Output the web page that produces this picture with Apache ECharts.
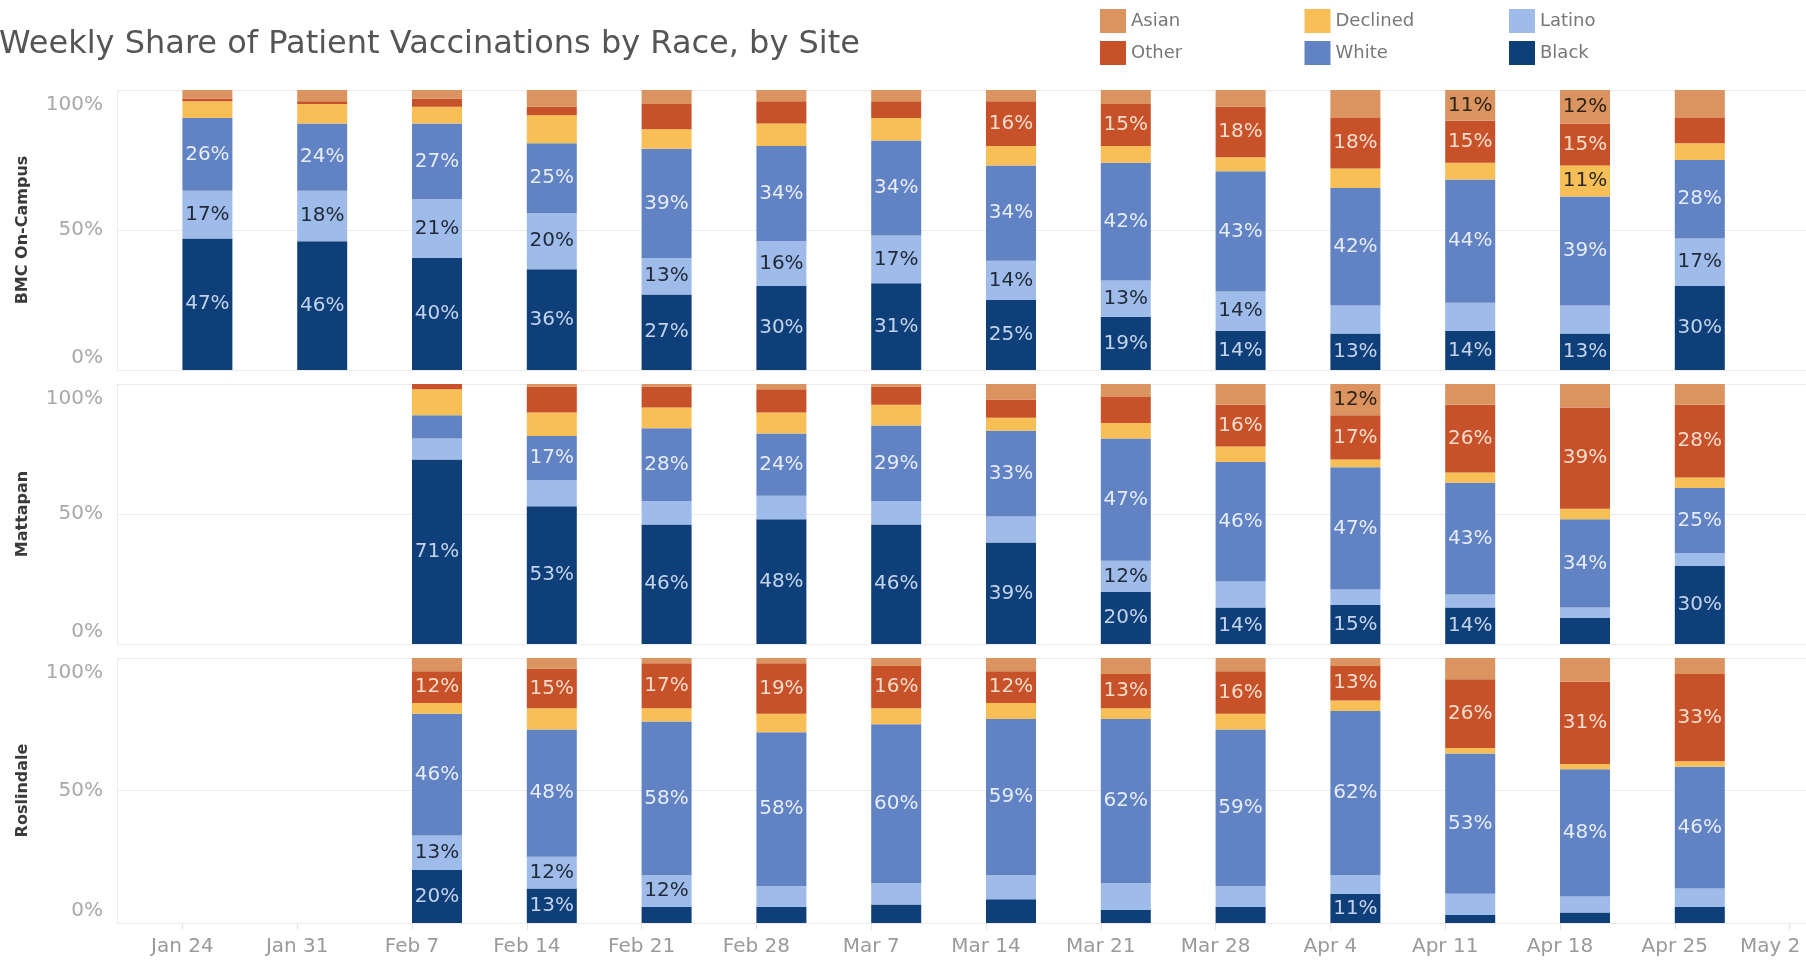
<!DOCTYPE html>
<html>
<head>
<meta charset="utf-8">
<title>Weekly Share of Patient Vaccinations by Race, by Site</title>
<script src="https://cdn.jsdelivr.net/npm/echarts@6/dist/echarts.min.js"></script>
<style>
    html, body { margin: 0; padding: 0; background: #fff; }
    #vaccine-chart { width: 1806px; height: 961px; }
</style>
</head>
<body>
<div id="vaccine-chart"></div>
<script>
    // week start dates (May 2 has no data yet)
    const weeks = ["Jan 24", "Jan 31", "Feb 7", "Feb 14", "Feb 21", "Feb 28", "Mar 7", "Mar 14", "Mar 21", "Mar 28", "Apr 4", "Apr 11", "Apr 18", "Apr 25", "May 2"];
    const races = ["Black", "Latino", "White", "Declined", "Other", "Asian"];
    const raceColors = ["#0f3f78", "#9ebbea", "#6182c3", "#f7bf55", "#c75129", "#db9460"];
    const labelColors = ["#c3d3ec", "#1f2937", "#e6ecf7", "#2a2a2a", "#f6dccb", "#2f2418"];

    // BMC On-Campus, share in %
    const bmcBlack    = [47, 46, 40, 36, 27, 30, 31, 25, 19, 14, 13, 14, 13, 30];
    const bmcLatino   = [17, 18, 21, 20, 13, 16, 17, 14, 13, 14, 10, 10, 10, 17];
    const bmcWhite    = [26, 24, 27, 25, 39, 34, 34, 34, 42, 43, 42, 44, 39, 28];
    const bmcDeclined = [6, 7, 6, 10, 7, 8, 8, 7, 6, 5, 7, 6, 11, 6];
    const bmcOther    = [1, 1, 3, 3, 9, 8, 6, 16, 15, 18, 18, 15, 15, 9];
    const bmcAsian    = [3, 4, 3, 6, 5, 4, 4, 4, 5, 6, 10, 11, 12, 10];

    // Mattapan
    const matBlack    = [null, null, 71, 53, 46, 48, 46, 39, 20, 14, 15, 14, 10, 30];
    const matLatino   = [null, null, 8, 10, 9, 9, 9, 10, 12, 10, 6, 5, 4, 5];
    const matWhite    = [null, null, 9, 17, 28, 24, 29, 33, 47, 46, 47, 43, 34, 25];
    const matDeclined = [null, null, 10, 9, 8, 8, 8, 5, 6, 6, 3, 4, 4, 4];
    const matOther    = [null, null, 2, 10, 8, 9, 7, 7, 10, 16, 17, 26, 39, 28];
    const matAsian    = [null, null, 0, 1, 1, 2, 1, 6, 5, 8, 12, 8, 9, 8];

    // Roslindale
    const rosBlack    = [null, null, 20, 13, 6, 6, 7, 9, 5, 6, 11, 3, 4, 6];
    const rosLatino   = [null, null, 13, 12, 12, 8, 8, 9, 10, 8, 7, 8, 6, 7];
    const rosWhite    = [null, null, 46, 48, 58, 58, 60, 59, 62, 59, 62, 53, 48, 46];
    const rosDeclined = [null, null, 4, 8, 5, 7, 6, 6, 4, 6, 4, 2, 2, 2];
    const rosOther    = [null, null, 12, 15, 17, 19, 16, 12, 13, 16, 13, 26, 31, 33];
    const rosAsian    = [null, null, 5, 4, 2, 2, 3, 5, 6, 5, 3, 8, 9, 6];

    const sites = [
        { name: "BMC On-Campus", values: [bmcBlack, bmcLatino, bmcWhite, bmcDeclined, bmcOther, bmcAsian] },
        { name: "Mattapan", values: [matBlack, matLatino, matWhite, matDeclined, matOther, matAsian] },
        { name: "Roslindale", values: [rosBlack, rosLatino, rosWhite, rosDeclined, rosOther, rosAsian] }
    ];

    // legend is laid out in three columns of two
    const legendColumns = [["Asian", "Other"], ["Declined", "White"], ["Latino", "Black"]];

    const font = "DejaVu Sans";
    const panelTops = [90, 384, 658];
    const panelHeights = [280, 260, 265];
    const band = 114.8;

    let grids = [];
    let xAxes = [];
    let yAxes = [];
    let series = [];

    sites.forEach((site, p) => {
        // grid a: y labels + gridlines, grid b: the bars
        grids.push({ left: 117, right: 0, top: panelTops[p], height: panelHeights[p], outerBoundsMode: "none", containLabel: false });
        grids.push({ left: 150, width: band * weeks.length, top: panelTops[p], height: panelHeights[p], outerBoundsMode: "none", containLabel: false });

        xAxes.push({ gridIndex: 2 * p, type: "category", data: weeks, show: false });
        xAxes.push({ gridIndex: 2 * p + 1, type: "category", data: weeks, show: false });

        yAxes.push({
            gridIndex: 2 * p,
            type: "value",
            min: 0,
            max: 100,
            interval: 50,
            name: site.name,
            nameLocation: "middle",
            nameGap: 86,
            nameRotate: 90,
            nameTextStyle: { color: "#3a3a3a", fontSize: 16, fontWeight: "bold", fontFamily: font },
            axisLine: { show: true, lineStyle: { color: "#ececec" } },
            axisTick: { show: false },
            splitLine: { lineStyle: { color: "#ececec" } },
            axisLabel: {
                margin: 14,
                color: "#a8a8a8",
                fontSize: 20,
                fontFamily: font,
                formatter: (v) => v === 100 ? "{hi|100%}" : (v === 0 ? "{lo|0%}" : v + "%"),
                rich: {
                    hi: { padding: [30, 0, 0, 0], color: "#a8a8a8", fontSize: 20, fontFamily: font },
                    lo: { padding: [0, 0, 24, 0], color: "#a8a8a8", fontSize: 20, fontFamily: font }
                }
            }
        });
        yAxes.push({ gridIndex: 2 * p + 1, type: "value", min: 0, max: 100, show: false });

        races.forEach((race, r) => {
            series.push({
                name: race,
                type: "bar",
                xAxisIndex: 2 * p + 1,
                yAxisIndex: 2 * p + 1,
                stack: "site" + p,
                barWidth: 50,
                data: site.values[r],
                itemStyle: { color: raceColors[r] },
                label: {
                    show: true,
                    position: "inside",
                    color: labelColors[r],
                    fontSize: 20,
                    fontFamily: font,
                    formatter: (item) => item.value > 10 ? item.value + "%" : ""
                }
            });
        });
    });

    // date axis under the last panel: ticks sit at the start of each weekly bar
    grids.push({ left: 150 + band / 2 - 25, width: band * (weeks.length - 1), top: panelTops[2], height: panelHeights[2], outerBoundsMode: "none", containLabel: false });
    xAxes.push({
        gridIndex: 6,
        type: "category",
        data: weeks,
        boundaryGap: false,
        axisLine: { show: false },
        axisTick: { show: true, length: 7, lineStyle: { color: "#e2e2e2" } },
        axisLabel: {
            interval: 0,
            margin: 14,
            color: "#9a9a9a",
            fontSize: 20,
            fontFamily: font,
            formatter: (v, i) => i === weeks.length - 1 ? "{last|" + v + "}" : v,
            rich: {
                last: { padding: [0, 39, 0, 0], color: "#9a9a9a", fontSize: 20, fontFamily: font }
            }
        }
    });
    yAxes.push({ gridIndex: 6, type: "value", min: 0, max: 100, show: false });

    const legends = legendColumns.map((names, c) => ({
        left: 1100 + c * 204.5,
        top: 9,
        padding: 0,
        orient: "vertical",
        icon: "rect",
        itemWidth: 26,
        itemHeight: 24,
        itemGap: 8,
        selectedMode: false,
        data: names,
        textStyle: { color: "#777", fontSize: 18, fontFamily: font }
    }));

    let chart = echarts.init(document.getElementById("vaccine-chart"));
    chart.setOption({
        animation: false,
        title: {
            text: "Weekly Share of Patient Vaccinations by Race, by Site",
            left: -1,
            top: 29,
            padding: 0,
            textStyle: { color: "#555", fontSize: 32, fontWeight: "normal", fontFamily: font }
        },
        legend: legends,
        grid: grids,
        xAxis: xAxes,
        yAxis: yAxes,
        series: series
    });
</script>
</body>
</html>
